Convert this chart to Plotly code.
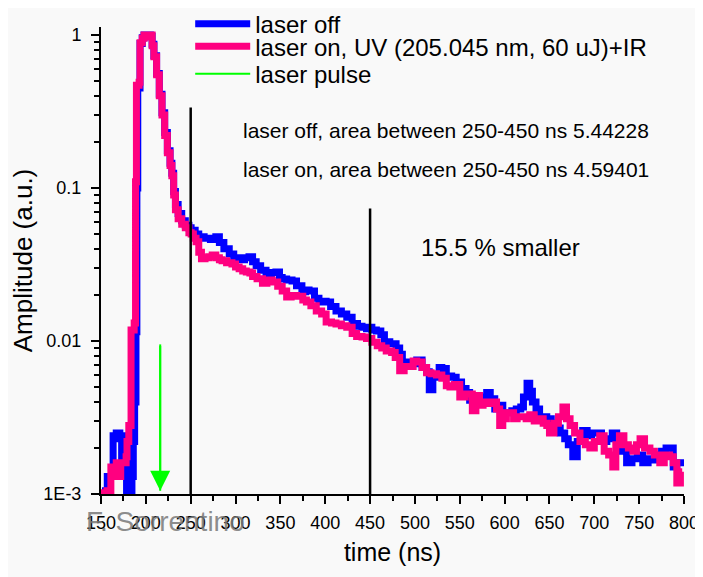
import math
import plotly.graph_objects as go

# ---------------- data ----------------
t_off = [150, 155, 157, 162, 163.5, 167, 171, 173, 175, 177,
         178.5, 183, 184.5, 186, 187.5, 189, 190, 191, 193.5, 196,
         198, 205, 207, 209, 212, 215, 218, 221, 224, 227,
         229, 231, 233, 236, 240, 244, 248, 250.5, 255, 259,
         265, 272, 278, 282, 287, 293, 298, 304, 310, 315,
         319, 323, 328, 334, 340, 345, 349, 352, 357, 363,
         368, 374, 378, 382, 388, 393, 397, 401, 406, 412,
         418, 424, 430, 436, 441, 446, 449, 452, 457, 462,
         466, 472, 479, 483, 486, 494, 502, 508, 513, 516,
         520, 527, 530, 535, 541, 546, 552, 557, 561, 565,
         569, 575, 580, 584, 589, 593, 598, 602, 608, 613,
         618, 621, 625, 628, 631, 635, 639, 643, 647, 652,
         657, 662, 667, 671, 676, 681, 687, 692, 697, 703,
         708, 714, 720, 725, 730, 736, 742, 748, 754, 760,
         765, 770, 775, 780, 784, 788, 792, 796, 800]
amp_off = [0.00100, 0.00105, 0.00130, 0.00130, 0.00240, 0.00250, 0.00230, 0.00170, 0.00200, 0.00240,
           0.00100, 0.00100, 0.00130, 0.00220, 0.00400, 0.0115, 0.100, 0.450, 0.880, 0.960,
           1.000, 0.980, 0.870, 0.730, 0.560, 0.410, 0.310, 0.230, 0.175, 0.145,
           0.125, 0.095, 0.078, 0.068, 0.061, 0.057, 0.055, 0.053, 0.050, 0.048,
           0.047, 0.046, 0.048, 0.044, 0.040, 0.037, 0.035, 0.034, 0.035, 0.0355,
           0.033, 0.031, 0.029, 0.0275, 0.028, 0.0282, 0.026, 0.0254, 0.025, 0.0247,
           0.023, 0.021, 0.0215, 0.0212, 0.019, 0.018, 0.0182, 0.018, 0.0168, 0.0157,
           0.0150, 0.0143, 0.0130, 0.0125, 0.0123, 0.0120, 0.0123, 0.0118, 0.0116, 0.0110,
           0.0099, 0.0096, 0.0090, 0.0082, 0.0073, 0.0071, 0.0075, 0.0067, 0.0063, 0.0048,
           0.0058, 0.0067, 0.0066, 0.0059, 0.0058, 0.0054, 0.0049, 0.0046, 0.0041, 0.0042,
           0.0040, 0.0043, 0.0046, 0.0042, 0.0036, 0.0038, 0.0034, 0.0034, 0.0035, 0.0036,
           0.0037, 0.0043, 0.0053, 0.0047, 0.0040, 0.0036, 0.0031, 0.0032, 0.0031, 0.0029,
           0.0027, 0.0025, 0.0023, 0.0021, 0.00175, 0.0022, 0.0026, 0.0024, 0.0025, 0.0025,
           0.0022, 0.0023, 0.0025, 0.0021, 0.0019, 0.0016, 0.0017, 0.0018, 0.0016, 0.0017,
           0.00167, 0.0018, 0.0019, 0.0020, 0.0020, 0.0015, 0.0016, 0.0016, 0.0016]

t_on = [150, 156.7, 161, 167, 168, 172, 178, 179, 181, 183.5,
        187, 188.5, 189.5, 192.5, 193.5, 196, 198, 203, 205, 207,
        209, 212, 215, 218, 221, 224, 227, 229, 231, 233,
        236, 240, 244, 248, 250.5, 253, 256, 259, 262, 266,
        270, 274, 278, 282, 285, 290, 296, 300, 304, 308,
        312, 316, 319, 324, 330, 335, 341, 347, 352, 357,
        362, 368, 375, 379, 384, 390, 396, 401, 407, 412,
        418, 424, 430, 435, 441, 446, 452, 458, 463, 468,
        474, 478, 483, 488, 494, 498, 502, 508, 513, 518,
        524, 530, 535, 539, 544, 550, 556, 561, 564, 568,
        572, 576, 582, 587, 591, 594.5, 598, 602, 606, 610,
        614, 620, 624, 628, 633, 639, 643, 647, 650, 655,
        660, 665, 669, 673, 678, 684, 690, 695, 700, 706,
        711, 716, 720.6, 724, 728, 733, 738, 743, 747, 751,
        756, 762, 767, 773, 778, 784, 788, 792, 796, 798]
amp_on = [0.00102, 0.00105, 0.0015, 0.0016, 0.0013, 0.0016, 0.00175, 0.0022, 0.0028, 0.0118,
          0.0131, 0.110, 0.470, 0.490, 0.890, 0.950, 1.000, 0.970, 1.000, 0.850,
          0.720, 0.550, 0.400, 0.300, 0.220, 0.170, 0.140, 0.120, 0.090, 0.072,
          0.063, 0.058, 0.055, 0.051, 0.050, 0.047, 0.0445, 0.038, 0.0345, 0.0350,
          0.0355, 0.0365, 0.0350, 0.0340, 0.0334, 0.0325, 0.0319, 0.0305, 0.0296, 0.0287,
          0.0282, 0.0278, 0.0264, 0.0255, 0.0238, 0.0250, 0.0243, 0.0228, 0.0212, 0.0194,
          0.0198, 0.0196, 0.0185, 0.0180, 0.0170, 0.0157, 0.0150, 0.0133, 0.0131, 0.0129,
          0.0126, 0.0123, 0.0112, 0.0107, 0.0106, 0.0104, 0.0098, 0.0093, 0.0090, 0.0086,
          0.0084, 0.0078, 0.0064, 0.0068, 0.0068, 0.0074, 0.0073, 0.0067, 0.0062, 0.0061,
          0.0060, 0.0057, 0.0051, 0.0050, 0.0052, 0.0043, 0.0045, 0.0045, 0.0035, 0.0044,
          0.0038, 0.0040, 0.0039, 0.0040, 0.0036, 0.0028, 0.0031, 0.0034, 0.0034, 0.0031,
          0.0032, 0.0032, 0.0031, 0.0033, 0.0030, 0.0031, 0.0029, 0.0028, 0.0025, 0.0029,
          0.0032, 0.0037, 0.0031, 0.0028, 0.0025, 0.0022, 0.0021, 0.0020, 0.0022, 0.0024,
          0.0019, 0.0018, 0.0015, 0.0021, 0.0024, 0.0021, 0.0020, 0.0019, 0.0021, 0.0023,
          0.0020, 0.0019, 0.0018, 0.0016, 0.0018, 0.00175, 0.0016, 0.00118, 0.0014, 0.0014]

area_window = [250, 450]          # ns, integration window markers
window_tops = [0.336, 0.0733]     # heights of the marker lines
pulse_time = 216                  # ns
pulse_span = [0.0095, 0.00105]

series_names = ["laser off", "laser on, UV (205.045 nm, 60 uJ)+IR", "laser pulse"]
series_colors = ["#0000ff", "#ff0080", "#00ff00"]

x_tickvals = list(range(150, 801, 50))
x_minorvals = list(range(175, 800, 50))
y_tickvals = [0.001, 0.01, 0.1, 1]
y_ticktext = ["1E-3", "0.01", "0.1", "1"]
y_minorvals = [k * 10.0 ** e for e in (-3, -2, -1) for k in range(2, 10)]

text_off = "laser off, area between 250-450 ns 5.44228"
text_on = "laser on, area between 250-450 ns 4.59401"
text_diff = "15.5 % smaller"
watermark = "F. Sorrentino"

# ---------------- figure ----------------
FONT = "Liberation Sans, Arial, sans-serif"
BG = "#f9f9f9"

fig = go.Figure()
fig.add_trace(go.Scatter(x=t_off, y=amp_off, mode="lines", name=series_names[0],
                         legend="legend",
                         line=dict(color=series_colors[0], width=7, shape="hv")))
fig.add_trace(go.Scatter(x=t_on, y=amp_on, mode="lines", name=series_names[1],
                         legend="legend2",
                         line=dict(color=series_colors[1], width=7, shape="hv")))
fig.add_trace(go.Scatter(x=[pulse_time, pulse_time], y=pulse_span, mode="lines",
                         name=series_names[2], legend="legend3",
                         line=dict(color=series_colors[2], width=2)))
for xv, top in zip(area_window, window_tops):
    fig.add_trace(go.Scatter(x=[xv, xv], y=[0.001, top], mode="lines", showlegend=False,
                             hoverinfo="skip", line=dict(color="black", width=2.5)))

fig.add_annotation(x=pulse_time, y=math.log10(pulse_span[1]), ax=pulse_time,
                   ay=math.log10(pulse_span[0]), xref="x", yref="y", axref="x", ayref="y",
                   showarrow=True, arrowhead=2, arrowsize=2.0, arrowwidth=2,
                   arrowcolor=series_colors[2], text="")

ann_font = dict(family=FONT, size=21, color="black")
fig.add_annotation(text=text_off, xref="paper", yref="paper", x=0.2405, y=0.778,
                   xanchor="left", yanchor="middle", showarrow=False, font=ann_font)
fig.add_annotation(text=text_on, xref="paper", yref="paper", x=0.2405, y=0.694,
                   xanchor="left", yanchor="middle", showarrow=False, font=ann_font)
fig.add_annotation(text=text_diff, xref="paper", yref="paper", x=0.546, y=0.527,
                   xanchor="left", yanchor="middle", showarrow=False,
                   font=dict(family=FONT, size=24, color="black"))
fig.add_annotation(text=watermark, xref="paper", yref="paper", x=-0.03, y=-0.058,
                   xanchor="left", yanchor="middle", showarrow=False,
                   font=dict(family=FONT, size=28, color="rgba(120,120,120,0.85)"))

leg_common = dict(x=0.153, xanchor="left", yanchor="middle", bgcolor="rgba(0,0,0,0)",
                  font=dict(family=FONT, size=24, color="black"), itemwidth=55,
                  borderwidth=0)

# the page body adds an 8 px offset; the figure is sized so the plot area
# lands where the reference's does inside the 703x577 window
fig.update_layout(
    width=695, height=569,
    margin=dict(l=93, r=19, t=19, b=83, autoexpand=False),
    paper_bgcolor=BG, plot_bgcolor=BG,
    font=dict(family=FONT, color="black"),
    showlegend=True,
    legend=dict(y=1.006, **leg_common),
    legend2=dict(y=0.958, **leg_common),
    legend3=dict(y=0.899, **leg_common),
    xaxis=dict(
        range=[150, 800], showgrid=False, zeroline=False, automargin=False,
        showline=True, linecolor="black", linewidth=2,
        tickmode="array", tickvals=x_tickvals,
        ticks="outside", ticklen=8, tickwidth=2, tickcolor="black",
        tickfont=dict(family=FONT, size=18), ticklabelstandoff=3,
        minor=dict(tickmode="array", tickvals=x_minorvals, ticks="outside",
                   ticklen=5, tickwidth=2, tickcolor="black"),
        title=dict(text="time (ns)", font=dict(family=FONT, size=25), standoff=12),
    ),
    yaxis=dict(
        type="log", range=[-3, 0.052], showgrid=False, zeroline=False, automargin=False,
        showline=True, linecolor="black", linewidth=2,
        tickmode="array", tickvals=y_tickvals, ticktext=y_ticktext,
        ticks="outside", ticklen=8, tickwidth=2, tickcolor="black",
        tickfont=dict(family=FONT, size=18), ticklabelstandoff=6,
        minor=dict(tickmode="array", tickvals=y_minorvals, ticks="outside",
                   ticklen=5, tickwidth=2, tickcolor="black"),
        title=dict(text="Amplitude (a.u.)", font=dict(family=FONT, size=26), standoff=14),
    ),
)

fig.write_html("out.html")
